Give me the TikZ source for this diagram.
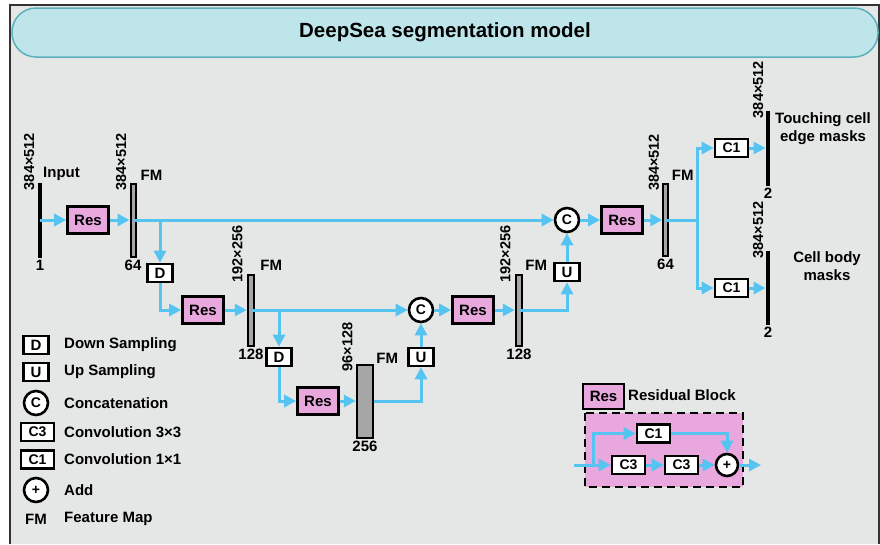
\documentclass[tikz,border=0pt]{standalone}
\usepackage{fontspec}
\setmainfont{Liberation Sans}
\usetikzlibrary{arrows.meta,positioning,calc}
\definecolor{flowblue}{RGB}{86,196,240}
\definecolor{respink}{RGB}{232,168,222}
\definecolor{fmgray}{RGB}{166,166,166}
\definecolor{bggray}{RGB}{229,231,231}
\definecolor{titlecyan}{RGB}{189,229,234}
\definecolor{titleedge}{RGB}{92,176,190}
\tikzset{
  flow/.style={draw=flowblue, line width=3pt, -{Triangle[length=12pt,width=12pt]}},
  flowline/.style={draw=flowblue, line width=3pt},
  resbox/.style={draw, line width=2.6pt, fill=respink, minimum width=41pt, minimum height=27pt,
    inner sep=0pt, font=\fontsize{15}{18}\selectfont\bfseries},
  smallbox/.style={draw, line width=2.6pt, fill=white, minimum width=25pt, minimum height=18pt,
    inner sep=0pt, font=\fontsize{15}{18}\selectfont\bfseries},
  convbox/.style={smallbox, minimum width=33pt, font=\fontsize{14}{16}\selectfont\bfseries},
  opcirc/.style={circle, draw, line width=2.6pt, fill=white, minimum size=24pt, inner sep=0pt,
    font=\fontsize{14}{16}\selectfont\bfseries},
  fmbar/.style={draw, line width=2pt, fill=fmgray, inner sep=0pt},
  iobar/.style={fill=black, minimum width=4.5pt, inner sep=0pt},
  dimlab/.style={rotate=90, anchor=south west, inner sep=1pt, font=\fontsize{14.5}{16}\selectfont\bfseries},
  lab/.style={inner sep=1pt, font=\fontsize{15}{18}\selectfont\bfseries},
}
\begin{document}
\begin{tikzpicture}[x=1pt,y=-1pt]
  \useasboundingbox (0,0) rectangle (880,544);
  \fill[bggray] (10,5) rectangle (879,544);
  \draw[line width=1.5pt, black!80] (10,544) -- (10,5) -- (879,5) -- (879,544);
  \node[draw=titleedge, fill=titlecyan, rounded corners=24pt, line width=1.5pt,
    minimum width=866pt, minimum height=49pt, font=\fontsize{20.5}{24}\selectfont\bfseries]
    (title) at (445,32.5) {DeepSea segmentation model};

  % encoder
  \node[iobar, minimum height=75pt] (in) at (40,220) {};
  \node[dimlab] at ([shift={(-2,9)}]in.north west) {384×512};
  \node[lab, anchor=west] at (42,174) {Input};
  \node[lab, below=1pt of in] {1};
  \node[resbox] (res1) at (88,220) {Res};
  \node[fmbar, minimum width=5pt, minimum height=73pt] (fm1) at (133,220) {};
  \node[dimlab] at ([shift={(-2,9)}]fm1.north west) {384×512};
  \node[lab, anchor=south west] at ([shift={(3,-1)}]fm1.north east) {FM};
  \node[lab, below=1pt of fm1] {64};
  \node[smallbox] (down1) at (160,273) {D};
  \node[resbox] (res2) at (203,310) {Res};
  \node[fmbar, minimum width=6.5pt, minimum height=71pt] (fm2) at (251,310) {};
  \node[dimlab] at ([shift={(-3,10)}]fm2.north west) {192×256};
  \node[lab, anchor=south west] at ([shift={(4,-2)}]fm2.north east) {FM};
  \node[lab, below=1pt of fm2] {128};
  \node[smallbox] (down2) at (279,357) {D};
  \node[resbox] (res3) at (318,401) {Res};
  \node[fmbar, minimum width=16.5pt, minimum height=73pt] (fm3) at (365,401) {};
  \node[dimlab] at ([shift={(-2,9)}]fm3.north west) {96×128};
  \node[lab, anchor=south west] at ([shift={(1,1)}]fm3.north east) {FM};
  \node[lab, below=1pt of fm3] {256};

  % decoder
  \node[smallbox] (up1) at (421,357) {U};
  \node[opcirc] (cat1) at (421,310) {C};
  \node[resbox] (res4) at (473,310) {Res};
  \node[fmbar, minimum width=6.5pt, minimum height=71pt] (fm4) at (519,310) {};
  \node[dimlab] at ([shift={(-3,10)}]fm4.north west) {192×256};
  \node[lab, anchor=south west] at ([shift={(1,-2)}]fm4.north east) {FM};
  \node[lab, below=1pt of fm4] {128};
  \node[smallbox] (up2) at (567,272) {U};
  \node[opcirc] (cat2) at (567,220) {C};
  \node[resbox] (res5) at (622,220) {Res};
  \node[fmbar, minimum width=4.5pt, minimum height=72pt] (fm5) at (665.5,220) {};
  \node[dimlab] at ([shift={(-2,9)}]fm5.north west) {384×512};
  \node[lab, anchor=south west] at ([shift={(2,-1)}]fm5.north east) {FM};
  \node[lab, below=1pt of fm5] {64};
  \coordinate (split) at (697,220);
  \node[convbox] (conv1) at (731.5,148) {C1};
  \node[convbox] (conv2) at (731.5,288) {C1};
  \node[iobar, minimum height=75pt] (out1) at (768,148) {};
  \node[dimlab] at ([shift={(-1,9)}]out1.north west) {384×512};
  \node[lab, below=1pt of out1] {2};
  \node[lab, align=center, anchor=north] at (823,111) {Touching cell\\edge masks};
  \node[iobar, minimum height=74pt] (out2) at (768,288) {};
  \node[dimlab] at ([shift={(-1,9)}]out2.north west) {384×512};
  \node[lab, below=1pt of out2] {2};
  \node[lab, align=center, anchor=north] at (827,250) {Cell body\\masks};

  \draw[flow] (in.center) -- (res1);
  \draw[flow] (res1) -- (fm1);
  \draw[flow] (fm1.center) -- (cat2);
  \draw[flow] (down1 |- fm1) -- (down1);
  \draw[flow] (down1) |- (res2);
  \draw[flow] (res2) -- (fm2);
  \draw[flow] (fm2.center) -- (cat1);
  \draw[flow] (down2 |- fm2) -- (down2);
  \draw[flow] (down2) |- (res3);
  \draw[flow] (res3) -- (fm3);
  \draw[flow] (fm3.east) -| (up1);
  \draw[flow] (up1) -- (cat1);
  \draw[flow] (cat1) -- (res4);
  \draw[flow] (res4) -- (fm4);
  \draw[flow] (fm4.center) -| (up2);
  \draw[flow] (up2) -- (cat2);
  \draw[flow] (cat2) -- (res5);
  \draw[flow] (res5) -- (fm5);
  \draw[flowline] (fm5.center) -- (split);
  \draw[flow] (split) |- (conv1);
  \draw[flow] (split) |- (conv2);
  \draw[flow] (conv1) -- (out1);
  \draw[flow] (conv2) -- (out2);

  % legend
  \node[smallbox] (keyD) at (36,345) {D};
  \node[lab, anchor=west] at (63,345) {Down Sampling};
  \node[smallbox] (keyU) at (36,372) {U};
  \node[lab, anchor=west] at (63,372) {Up Sampling};
  \node[opcirc] (keyC) at (36,403) {C};
  \node[lab, anchor=west] at (63,403) {Concatenation};
  \node[convbox] (keyC3) at (37.5,432) {C3};
  \node[lab, anchor=west] at (63,432) {Convolution 3×3};
  \node[convbox] (keyC1) at (37.5,459.5) {C1};
  \node[lab, anchor=west] at (63,459.5) {Convolution 1×1};
  \node[opcirc] (keyAdd) at (36,490) {+};
  \node[lab, anchor=west] at (63,490) {Add};
  \node[lab] (keyFM) at (36,519) {FM};
  \node[lab, anchor=west] at (63,519) {Feature Map};

  % residual block
  \node[resbox, minimum height=25pt] (keyRes) at (603.5,396.5) {Res};
  \node[lab, anchor=west] at (627,395) {Residual Block};
  \draw[dash pattern=on 8pt off 5pt, line width=2.6pt, fill=respink] (585,413) rectangle (743,487);
  \coordinate (rin) at (574,465);
  \coordinate (rsplit) at (593,465);
  \coordinate (rout) at (761,465);
  \node[convbox] (rc3a) at (628.5,465) {C3};
  \node[convbox] (rc3b) at (681.5,465) {C3};
  \node[convbox] (rc1) at (653.5,433.5) {C1};
  \node[opcirc, minimum size=22pt] (radd) at (727,465) {+};
  \draw[flow] (rin) -- (rc3a);
  \draw[flow] (rc3a) -- (rc3b);
  \draw[flow] (rc3b) -- (radd);
  \draw[flow] (radd) -- (rout);
  \draw[flow] (rsplit) |- (rc1);
  \draw[flow] (rc1) -| (radd);
\end{tikzpicture}
\end{document}
